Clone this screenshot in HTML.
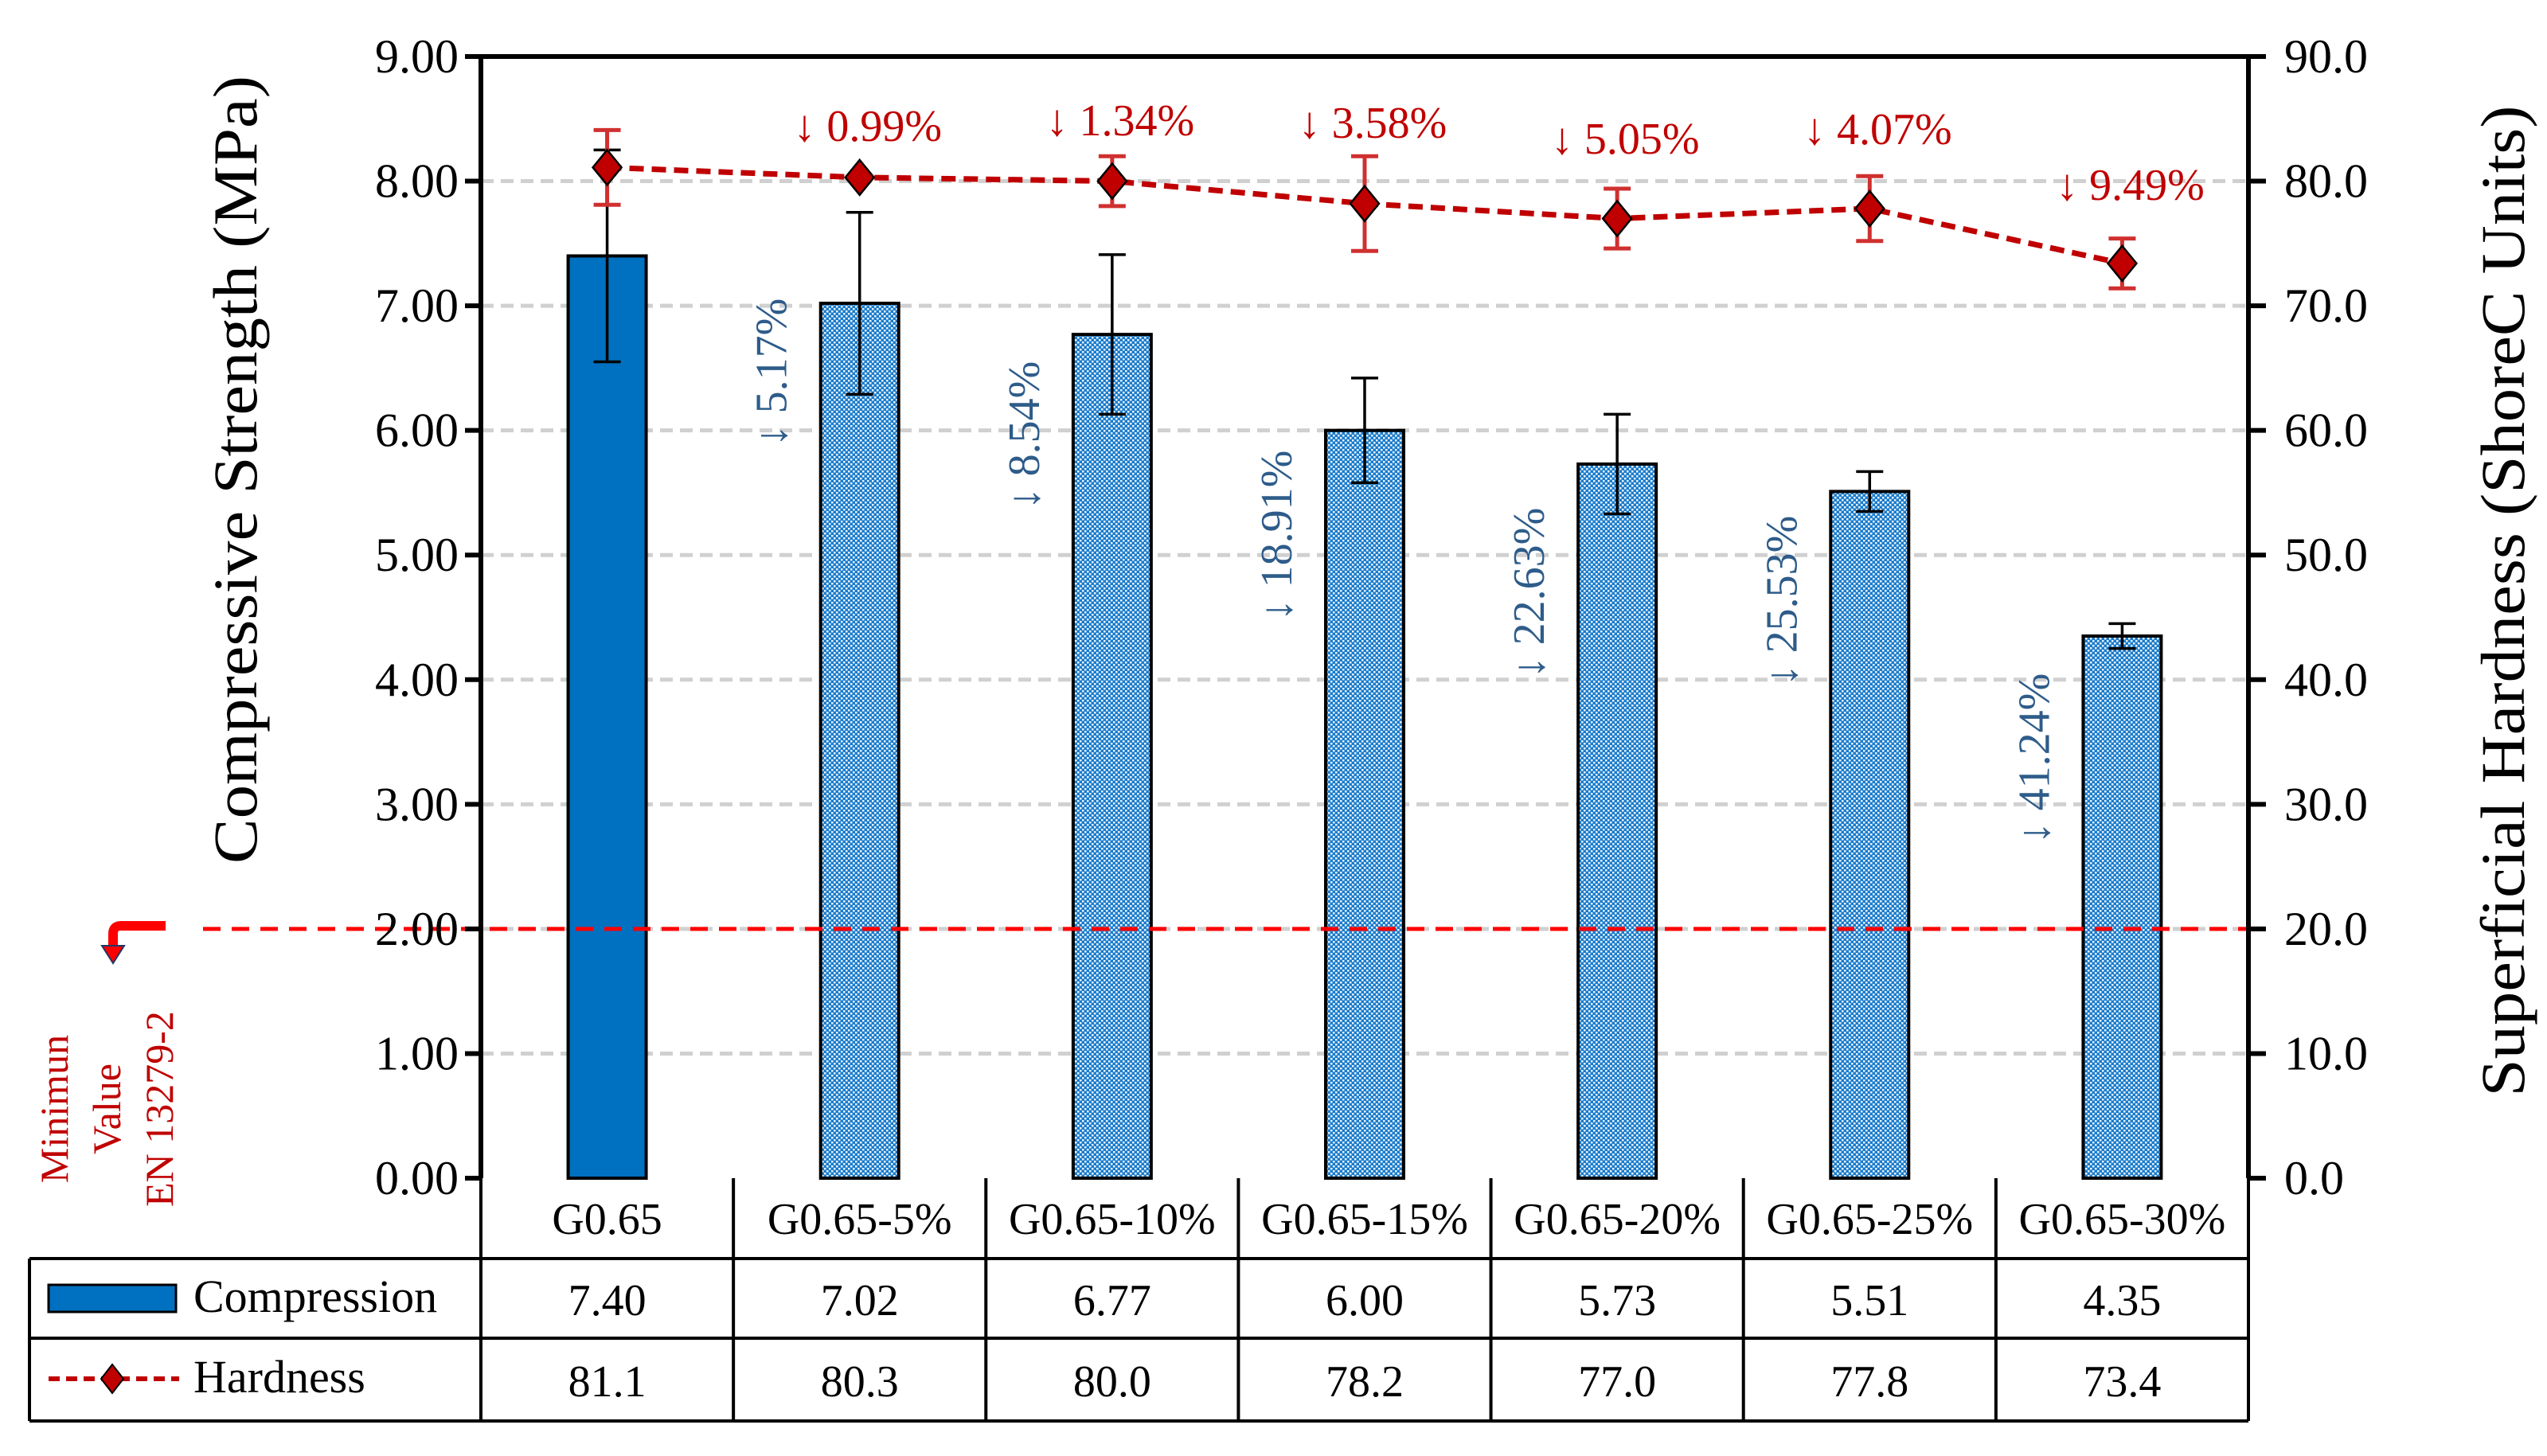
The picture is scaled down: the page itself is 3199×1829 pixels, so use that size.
<!DOCTYPE html>
<html><head><meta charset="utf-8"><style>
html,body{margin:0;padding:0;background:#fff;}
svg{display:block;font-family:"Liberation Serif",serif;}
</style></head><body>
<svg id="chart" width="3199" height="1829" viewBox="0 0 3199 1829" xmlns="http://www.w3.org/2000/svg">
<defs>
<pattern id="dots" width="6" height="6" patternUnits="userSpaceOnUse">
<rect width="6" height="6" fill="#1a7ccc"/>
<rect x="0" y="0" width="2.5" height="2.5" fill="#ffffff" opacity="0.9"/>
<rect x="3" y="3" width="2.5" height="2.5" fill="#ffffff" opacity="0.9"/>
</pattern>
</defs>
<g id="grid"></g>
<g id="bars"></g>
<g id="line"></g>
<g id="labels"></g>
<g id="axes"></g>
<g id="table"></g>
</svg>
<script>
const categories=["G0.65","G0.65-5%","G0.65-10%","G0.65-15%","G0.65-20%","G0.65-25%","G0.65-30%"];
const compression=[7.40,7.02,6.77,6.00,5.73,5.51,4.35];
const compressionErr=[0.85,0.73,0.64,0.42,0.40,0.16,0.10];
const hardness=[81.1,80.3,80.0,78.2,77.0,77.8,73.4];
const hardnessErr=[3.0,0.0,2.0,3.8,2.4,2.6,2.0];
const leftTicks=["0.00","1.00","2.00","3.00","4.00","5.00","6.00","7.00","8.00","9.00"];
const rightTicks=["0.0","10.0","20.0","30.0","40.0","50.0","60.0","70.0","80.0","90.0"];
const compDrop=["","↓ 5.17%","↓ 8.54%","↓ 18.91%","↓ 22.63%","↓ 25.53%","↓ 41.24%"];
const hardDrop=["","↓ 0.99%","↓ 1.34%","↓ 3.58%","↓ 5.05%","↓ 4.07%","↓ 9.49%"];
const minValue=2.0;

const NS="http://www.w3.org/2000/svg";
const X0=604,X1=2824,Y0=1480,Y1=71;
const bw=(X1-X0)/categories.length;
const yL=v=>Y0-(v/9)*(Y0-Y1);
const yR=v=>Y0-(v/90)*(Y0-Y1);
const xC=i=>X0+bw*(i+0.5);
function el(tag,attrs,parent,text){const e=document.createElementNS(NS,tag);for(const k in attrs)e.setAttribute(k,attrs[k]);if(text!==undefined)e.textContent=text;document.getElementById(parent).appendChild(e);return e;}

for(let i=1;i<leftTicks.length;i++){
  const g=el('line',{x1:X0,x2:X1,y1:yL(i),y2:yL(i),stroke:'#d0d0d0','stroke-width':5,'stroke-dasharray':'16 9'},'grid');
  
  
}
compression.forEach((v,i)=>{
  const r=el('rect',{x:xC(i)-49,y:yL(v),width:98,height:Y0-yL(v),fill:i===0?'#0070c0':'url(#dots)',stroke:'#000','stroke-width':4},'bars');
  
  
  const e=compressionErr[i],x=xC(i);
  const eb=el('path',{d:`M${x},${yL(v+e)}V${yL(v-e)}M${x-17},${yL(v+e)}H${x+17}M${x-17},${yL(v-e)}H${x+17}`,stroke:'#000','stroke-width':3.5,fill:'none'},'bars');
  
  
});
const ml=el('line',{x1:255,x2:X1,y1:yL(minValue),y2:yL(minValue),stroke:'#ff0000','stroke-width':5,'stroke-dasharray':'22 14'},'line');


const pts=hardness.map((v,i)=>xC(i)+','+yR(v)).join(' ');
const pl=el('polyline',{points:pts,fill:'none',stroke:'#c00000','stroke-width':7,'stroke-dasharray':'18 10'},'line');


hardness.forEach((v,i)=>{
  const x=xC(i),e=hardnessErr[i];
  if(e>0){
    const eb=el('path',{d:`M${x},${yR(v+e)}V${yR(v-e)}M${x-17},${yR(v+e)}H${x+17}M${x-17},${yR(v-e)}H${x+17}`,stroke:'#d03030','stroke-width':5,fill:'none'},'line');
    
    
  }
  const y=yR(v);
  const d=el('path',{d:`M${x},${y-22}L${x+18},${y}L${x},${y+22}L${x-18},${y}Z`,fill:'#c00000',stroke:'#000','stroke-width':2.5},'line');
  
  
});
const hdY=[0,157,150,153,173,161,231];
hardDrop.forEach((t,i)=>{if(!t)return;
  const tx=el('text',{x:xC(i)+10,y:hdY[i]+20,'text-anchor':'middle','font-size':56,fill:'#c00000'},'labels',t);
  
  
});
const cdY=[0,468,547,673,745,755,953];
compDrop.forEach((t,i)=>{if(!t)return;
  const x=xC(i)-92,y=cdY[i];
  const tx=el('text',{x:0,y:0,'text-anchor':'middle','font-size':56,fill:'#2e5c8a',transform:`translate(${x},${y}) rotate(-90)`},'labels',t);
  
  
});
const ax=el('path',{d:`M${X0},${Y1}V${Y0}M${X1},${Y1}V${Y0}M${X0},${Y1}H${X1}`,stroke:'#000','stroke-width':6,fill:'none'},'axes');


leftTicks.forEach((t,i)=>{
  const y=yL(i);
  el('line',{x1:X0-20,x2:X0,y1:y,y2:y,stroke:'#000','stroke-width':6},'axes');
  const tx=el('text',{x:X0-28,y:y+20,'text-anchor':'end','font-size':60},'axes',t);
  
  
});
rightTicks.forEach((t,i)=>{
  const y=yR(i*10);
  el('line',{x1:X1,x2:X1+22,y1:y,y2:y,stroke:'#000','stroke-width':6},'axes');
  const tx=el('text',{x:X1+45,y:y+20,'text-anchor':'start','font-size':60},'axes',t);
  
  
});
const lt=el('text',{x:0,y:0,'text-anchor':'middle','font-size':78,textLength:990,lengthAdjust:'spacingAndGlyphs',transform:'translate(322,590) rotate(-90)'},'axes','Compressive Strength (MPa)');


const rt=el('text',{x:0,y:0,'text-anchor':'middle','font-size':78,textLength:1245,lengthAdjust:'spacingAndGlyphs',transform:'translate(3170,755) rotate(-90)'},'axes','Superficial Hardness (ShoreC Units)');


["Minimun","Value","EN 13279-2"].forEach((t,i)=>{
  const tx=el('text',{x:0,y:0,'text-anchor':'middle','font-size':50,fill:'#c00000',transform:`translate(${85+i*66},1393) rotate(-90)`},'axes',t);
  
  
});
const arr=el('path',{d:'M208,1163H152Q142,1163,142,1173V1190',stroke:'#ff0000','stroke-width':12,fill:'none'},'axes');


const arrh=el('path',{d:'M128,1188L142,1210L156,1188Z',fill:'#ff0000',stroke:'#203864','stroke-width':2},'axes');


const T0=37,R1=1581,R2=1681,R3=1785;
const tb=el('path',{d:`M${X0},${Y0}V${R3}M${T0},${R1}V${R3}M${X1},${Y0}V${R3}M${T0},${R1}H${X1}M${T0},${R2}H${X1}M${T0},${R3}H${X1}`+categories.map((c,i)=>`M${X0+bw*(i+1)},${Y0}V${R3}`).join(''),stroke:'#000','stroke-width':4,fill:'none'},'table');


categories.forEach((c,i)=>{
  const a=el('text',{x:xC(i),y:1550,'text-anchor':'middle','font-size':56},'table',c);
  
  
  const b=el('text',{x:xC(i),y:1652,'text-anchor':'middle','font-size':56},'table',compression[i].toFixed(2));
  
  
  const h=el('text',{x:xC(i),y:1754,'text-anchor':'middle','font-size':56},'table',hardness[i].toFixed(1));
  
  
});
const lg1=el('rect',{x:61,y:1614,width:160,height:34,fill:'#0070c0',stroke:'#000','stroke-width':3},'table');


const lt1=el('text',{x:243,y:1648,'font-size':58},'table','Compression');


el('line',{x1:61,x2:225,y1:1732,y2:1732,stroke:'#c00000','stroke-width':6,'stroke-dasharray':'14 8'},'table');
el('path',{d:'M141,1714L155,1732L141,1750L127,1732Z',fill:'#c00000',stroke:'#000','stroke-width':2},'table');
const lt2=el('text',{x:243,y:1749,'font-size':58},'table','Hardness');


</script>
</body></html>
